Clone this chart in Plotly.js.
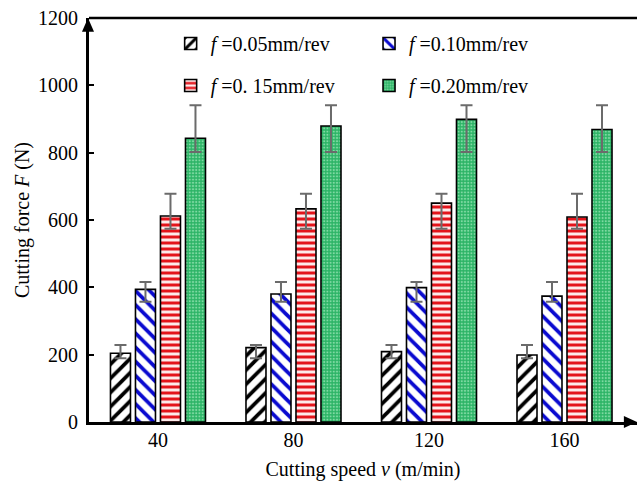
<!DOCTYPE html>
<html>
<head>
<meta charset="utf-8">
<script src="https://cdn.plot.ly/plotly-3.0.1.min.js"></script>
<style>html,body{margin:0;padding:0;background:#fff;}#chart{width:637px;height:485px;}</style>
</head>
<body>
<div id="chart"></div>
<script>
// ---- data ----
const speeds = ['40', '80', '120', '160'];
const seriesNames = ['<i>f</i> =0.05mm/rev', '<i>f</i> =0.10mm/rev', '<i>f</i> =0. 15mm/rev', '<i>f</i> =0.20mm/rev'];
const force005 = [204, 221, 209, 199];
const force010 = [394, 380, 399, 374];
const force015 = [612, 633, 650, 609];
const force020 = [843, 879, 899, 869];
// error bar bounds (upper / lower ends) per series
const errHigh005 = [229, 229, 229, 229];
const errLow005  = [189, 189, 189, 189];
const errHigh010 = [416, 416, 416, 416];
const errLow010  = [357, 357, 357, 357];
const errHigh015 = [678, 678, 678, 678];
const errLow015  = [574, 574, 574, 574];
const errHigh020 = [941, 941, 941, 941];
const errLow020  = [802, 802, 802, 802];

const FONT = 'Liberation Serif, Times New Roman, serif';

function mkTrace(i, vals, hi, lo, pattern, legend) {
  return {
    type: 'bar', x: speeds, y: vals, name: seriesNames[i],
    legendgroup: 'g' + i, legend: legend,
    marker: { color: pattern.bgcolor, line: { color: '#000', width: 1.6 }, pattern: pattern },
    error_y: {
      type: 'data', symmetric: false,
      array: vals.map((v, k) => hi[k] - v),
      arrayminus: vals.map((v, k) => v - lo[k]),
      color: '#6b6b6b', thickness: 2, width: 6
    }
  };
}

const traces = [
  mkTrace(0, force005, errHigh005, errLow005, { shape: '/', fgcolor: '#000000', bgcolor: '#ffffff', fgopacity: 1, size: 10, solidity: 0.38, fillmode: 'overlay' }, 'legend'),
  mkTrace(1, force010, errHigh010, errLow010, { shape: '\\', fgcolor: '#0a0ad0', bgcolor: '#ffffff', fgopacity: 1, size: 10, solidity: 0.38, fillmode: 'overlay' }, 'legend2'),
  mkTrace(2, force015, errHigh015, errLow015, { shape: '-', fgcolor: '#e3141b', bgcolor: '#fdeaea', fgopacity: 1, size: 6, solidity: 0.5, fillmode: 'overlay' }, 'legend'),
  mkTrace(3, force020, errHigh020, errLow020, { shape: '.', fgcolor: '#7fd9a2', bgcolor: '#2cb466', fgopacity: 1, size: 3.2, solidity: 0.35, fillmode: 'overlay' }, 'legend2')
];

const legendCommon = {
  font: { family: FONT, size: 20, color: '#000' },
  bgcolor: 'rgba(0,0,0,0)', tracegroupgap: 13, yanchor: 'top', xanchor: 'left',
  orientation: 'v', itemclick: false
};

const layout = {
  width: 637, height: 485,
  margin: { l: 89, r: 0, t: 18, b: 63 },
  paper_bgcolor: '#fff', plot_bgcolor: '#fff',
  font: { family: FONT, size: 20, color: '#000' },
  barmode: 'group', bargap: 0.262, bargroupgap: 0.2,
  showlegend: true,
  legend: Object.assign({ x: 0.149, y: 0.985 }, legendCommon),
  legend2: Object.assign({ x: 0.511, y: 0.985 }, legendCommon),
  xaxis: {
    type: 'category', range: [-0.509, 3.535],
    showline: true, linewidth: 3, linecolor: '#000',
    ticks: '', showgrid: false, zeroline: false, ticklabelstandoff: -2,
    tickfont: { family: FONT, size: 20, color: '#000' },
    title: { text: 'Cutting speed <i>v</i> (m/min)', font: { family: FONT, size: 20, color: '#000' }, standoff: 12 }
  },
  yaxis: {
    range: [0, 1200], dtick: 200, tick0: 0,
    showline: true, linewidth: 3, linecolor: '#000',
    ticks: 'inside', ticklen: 5, tickwidth: 2, tickcolor: '#000',
    showgrid: false, zeroline: false, ticklabelstandoff: 4,
    tickfont: { family: FONT, size: 20, color: '#000' },
    title: { text: 'Cutting force <i>F</i> (N)', font: { family: FONT, size: 20, color: '#000' }, standoff: 4 }
  },
  shapes: [
    { type: 'line', xref: 'paper', yref: 'paper', x0: 0, x1: 1, y0: 1, y1: 1, line: { color: '#000', width: 2.5 } },
    { type: 'path', xref: 'paper', yref: 'paper', path: 'M 1.0 0 L 0.976 0.0149 L 0.976 -0.0149 Z', fillcolor: '#000', line: { width: 0 } },
    { type: 'path', xref: 'paper', yref: 'paper', path: 'M -0.0018 1.0 L -0.0128 0.966 L 0.0092 0.966 Z', fillcolor: '#000', line: { width: 0 } }
  ]
};

Plotly.newPlot('chart', traces, layout, { displayModeBar: false, staticPlot: true });
</script>
</body>
</html>
